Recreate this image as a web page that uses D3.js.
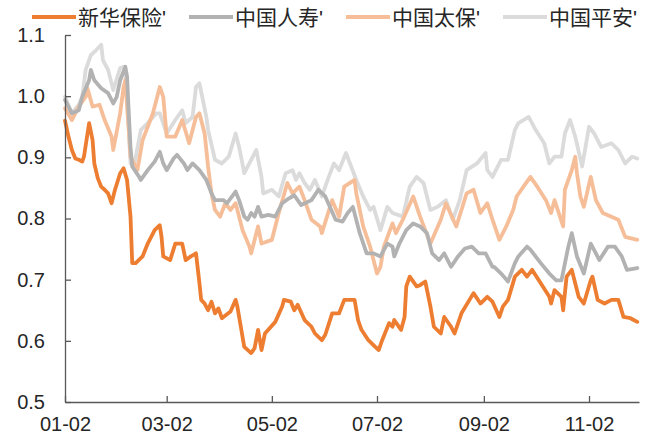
<!DOCTYPE html>
<html><head><meta charset="utf-8">
<script src="https://cdn.jsdelivr.net/npm/d3@7"></script>
<style>
html,body{margin:0;padding:0;background:#fff;}
svg{display:block;}
text{font-family:"Liberation Sans","Noto Sans CJK SC",Arial,sans-serif;fill:#262626;}
</style></head>
<body>
<svg id="chart" width="659" height="439"></svg>
<script>
const seriesNames = ["新华保险'", "中国人寿'", "中国太保'", "中国平安'"];
const xTickLabels = ["01-02", "03-02", "05-02", "07-02", "09-02", "11-02"];
const yTickValues = [0.5, 0.6, 0.7, 0.8, 0.9, 1.0, 1.1];

const xinhuaDates = ["01-02","01-04","01-06","01-08","01-10","01-12","01-13","01-16","01-18","01-19","01-21","01-23","01-25","01-27","01-29","01-31","02-03","02-05","02-07","02-09","02-10","02-12","02-16","02-19","02-23","02-26","02-27","02-28","03-04","03-07","03-11","03-13","03-16","03-19","03-21","03-22","03-24","03-26","03-28","03-30","04-01","04-03","04-08","04-11","04-12","04-14","04-16","04-20","04-22","04-24","04-26","04-28","05-04","05-08","05-09","05-13","05-15","05-17","05-21","05-25","05-27","05-31","06-02","06-06","06-10","06-13","06-17","06-19","06-21","06-23","06-27","07-01","07-03","07-05","07-09","07-11","07-12","07-16","07-18","07-19","07-21","07-25","07-27","07-30","08-02","08-04","08-08","08-10","08-14","08-16","08-20","08-27","08-31","09-04","09-07","09-11","09-13","09-16","09-20","09-24","09-27","09-30","10-05","10-10","10-11","10-13","10-17","10-18","10-20","10-23","10-27","10-30","11-03","11-04","11-07","11-11","11-15","11-19","11-22","11-26","11-30"];
const xinhuaValues = [0.960,0.934,0.912,0.898,0.896,0.893,0.901,0.956,0.928,0.890,0.866,0.852,0.847,0.841,0.825,0.847,0.874,0.882,0.863,0.803,0.727,0.727,0.738,0.759,0.781,0.789,0.770,0.738,0.732,0.759,0.759,0.732,0.738,0.743,0.694,0.667,0.661,0.650,0.664,0.645,0.653,0.637,0.648,0.667,0.656,0.623,0.590,0.580,0.588,0.618,0.585,0.612,0.631,0.656,0.667,0.664,0.650,0.659,0.634,0.623,0.612,0.601,0.610,0.645,0.645,0.667,0.667,0.667,0.634,0.618,0.601,0.590,0.585,0.601,0.629,0.623,0.634,0.618,0.639,0.689,0.705,0.689,0.691,0.697,0.656,0.623,0.612,0.639,0.623,0.612,0.645,0.678,0.661,0.672,0.664,0.639,0.656,0.667,0.705,0.716,0.705,0.716,0.694,0.672,0.661,0.683,0.672,0.650,0.705,0.716,0.672,0.661,0.699,0.705,0.667,0.661,0.667,0.667,0.639,0.637,0.631];

const renshouDates = ["01-02","01-06","01-10","01-12","01-16","01-17","01-19","01-23","01-27","01-30","02-01","02-03","02-06","02-07","02-08","02-09","02-10","02-14","02-15","02-19","02-23","02-26","02-28","03-02","03-06","03-08","03-12","03-14","03-17","03-21","03-25","03-28","03-30","04-04","04-06","04-11","04-13","04-16","04-18","04-20","04-22","04-24","04-26","04-30","05-04","05-08","05-12","05-15","05-19","05-25","05-29","06-02","06-08","06-12","06-15","06-18","06-22","06-26","06-30","07-04","07-08","07-11","07-12","07-15","07-19","07-23","07-27","07-31","08-03","08-07","08-10","08-14","08-18","08-22","08-26","08-30","09-03","09-07","09-08","09-12","09-16","09-20","09-22","09-27","09-29","10-05","10-10","10-14","10-17","10-21","10-23","10-26","10-30","11-03","11-06","11-08","11-13","11-17","11-21","11-24","11-30"];
const renshouValues = [0.994,0.972,0.977,0.999,1.026,1.043,1.026,1.013,1.005,0.988,0.999,1.026,1.048,1.032,0.972,0.917,0.885,0.868,0.863,0.879,0.893,0.909,0.890,0.879,0.898,0.904,0.890,0.879,0.890,0.879,0.863,0.841,0.830,0.830,0.825,0.844,0.830,0.803,0.798,0.809,0.803,0.819,0.803,0.806,0.803,0.825,0.833,0.838,0.822,0.830,0.847,0.836,0.798,0.795,0.809,0.819,0.776,0.743,0.743,0.738,0.759,0.754,0.738,0.759,0.781,0.792,0.787,0.776,0.743,0.732,0.743,0.721,0.738,0.751,0.754,0.743,0.743,0.721,0.721,0.710,0.697,0.727,0.738,0.754,0.749,0.727,0.710,0.699,0.699,0.754,0.776,0.738,0.710,0.759,0.743,0.732,0.754,0.754,0.738,0.716,0.719];

const taibaoDates = ["01-02","01-06","01-10","01-14","01-15","01-18","01-22","01-25","01-29","01-30","02-03","02-05","02-06","02-08","02-09","02-13","02-16","02-22","02-26","02-28","03-02","03-07","03-11","03-15","03-19","03-21","03-24","03-26","03-28","03-30","04-02","04-05","04-08","04-11","04-15","04-19","04-20","04-22","04-24","04-26","05-02","05-06","05-11","05-14","05-18","05-21","05-25","05-30","05-31","06-06","06-10","06-13","06-19","06-20","06-24","06-28","07-02","07-04","07-06","07-11","07-13","07-17","07-23","07-27","08-02","08-08","08-11","08-17","08-23","08-27","08-31","09-04","09-07","09-11","09-15","09-19","09-21","09-25","09-29","10-03","10-08","10-11","10-13","10-18","10-19","10-23","10-25","10-26","10-28","10-30","11-03","11-06","11-10","11-15","11-19","11-23","11-30"];
const taibaoValues = [0.980,0.961,0.983,0.999,1.013,0.983,0.986,0.961,0.934,0.912,0.972,1.015,1.026,0.945,0.901,0.879,0.928,0.972,1.015,0.999,0.934,0.934,0.961,0.923,0.966,0.972,0.939,0.885,0.841,0.814,0.803,0.825,0.814,0.825,0.781,0.754,0.743,0.765,0.787,0.759,0.765,0.809,0.858,0.841,0.852,0.830,0.798,0.787,0.776,0.830,0.803,0.852,0.863,0.841,0.787,0.754,0.710,0.721,0.754,0.792,0.776,0.798,0.836,0.803,0.759,0.798,0.825,0.787,0.841,0.847,0.809,0.825,0.798,0.765,0.787,0.814,0.836,0.852,0.868,0.852,0.830,0.809,0.830,0.787,0.847,0.879,0.901,0.874,0.836,0.819,0.868,0.830,0.809,0.803,0.798,0.770,0.765];

const pinganDates = ["01-02","01-06","01-10","01-12","01-14","01-17","01-20","01-23","01-24","01-27","01-30","02-03","02-05","02-06","02-08","02-09","02-11","02-15","02-19","02-24","02-26","03-02","03-07","03-11","03-13","03-17","03-19","03-21","03-25","03-26","03-30","04-03","04-07","04-11","04-13","04-16","04-20","04-23","04-26","04-27","05-02","05-06","05-10","05-14","05-16","05-18","05-21","05-24","05-27","05-31","06-04","06-07","06-10","06-14","06-17","06-20","06-24","06-28","06-30","07-04","07-08","07-11","07-17","07-21","07-25","07-29","08-02","08-06","08-11","08-15","08-19","08-23","08-29","09-03","09-04","09-07","09-12","09-16","09-20","09-22","09-28","10-02","10-07","10-10","10-13","10-17","10-19","10-22","10-25","10-29","11-02","11-05","11-09","11-15","11-19","11-23","11-27","11-30"];
const pinganValues = [0.999,0.972,0.986,0.999,1.043,1.067,1.075,1.084,1.059,1.043,1.010,1.046,1.048,1.037,0.945,0.890,0.885,0.945,0.956,0.972,0.972,0.939,0.961,0.977,0.956,0.966,1.015,1.021,0.966,0.945,0.896,0.890,0.901,0.939,0.917,0.874,0.896,0.912,0.868,0.841,0.847,0.836,0.874,0.879,0.863,0.874,0.858,0.847,0.863,0.836,0.868,0.890,0.879,0.907,0.885,0.863,0.836,0.814,0.819,0.781,0.819,0.809,0.803,0.852,0.868,0.858,0.814,0.819,0.830,0.798,0.830,0.879,0.890,0.907,0.879,0.868,0.896,0.896,0.945,0.956,0.966,0.945,0.923,0.890,0.901,0.901,0.939,0.961,0.934,0.885,0.950,0.939,0.917,0.923,0.912,0.890,0.901,0.898];

const colors = ["#ED7D31", "#B2B2B2", "#F6BE98", "#DBDBDB"];
const YEAR = "2023-";
const parse = d3.timeParse("%Y-%m-%d");
const toPoints = (dates, vals) => dates.map((d, i) => ({date: parse(YEAR + d), value: vals[i]}));
const series = [
  {name: seriesNames[0], color: colors[0], pts: toPoints(xinhuaDates, xinhuaValues)},
  {name: seriesNames[1], color: colors[1], pts: toPoints(renshouDates, renshouValues)},
  {name: seriesNames[2], color: colors[2], pts: toPoints(taibaoDates, taibaoValues)},
  {name: seriesNames[3], color: colors[3], pts: toPoints(pinganDates, pinganValues)}
];

const svg = d3.select("#chart");
const x = d3.scaleTime().domain([parse("2023-01-02"), parse("2023-12-01")]).range([65, 639]);
const y = d3.scaleLinear().domain([0.5, 1.1]).range([402, 35]);

const line = d3.line().x(d => x(d.date)).y(d => y(d.value)).curve(d3.curveLinear);

// lines: draw last series first so the first series sits on top
const g = svg.append("g");
series.slice().reverse().forEach(s => {
  g.append("path").datum(s.pts)
    .attr("d", line)
    .attr("fill", "none")
    .attr("stroke", s.color)
    .attr("stroke-width", 3.8)
    .attr("stroke-linejoin", "round")
    .attr("stroke-linecap", "round");
});

// Y axis
const yAxis = d3.axisLeft(y).tickValues(yTickValues).tickSizeInner(-6).tickSizeOuter(0)
  .tickPadding(20).tickFormat(d3.format(".1f"));
const yg = svg.append("g").attr("transform", "translate(65,0)").call(yAxis);
yg.select(".domain").attr("stroke", "#595959").attr("stroke-width", 1.3);
yg.selectAll(".tick line").attr("stroke", "#595959").attr("stroke-width", 1.3);
yg.selectAll(".tick text").attr("font-size", 20).attr("fill", "#262626")
  .style("font-family", '"Liberation Sans",Arial,sans-serif');

// X axis
const xTicks = xTickLabels.map(s => parse(YEAR + s));
const xAxis = d3.axisBottom(x).tickValues(xTicks).tickSizeInner(-6).tickSizeOuter(0)
  .tickPadding(15).tickFormat(d3.timeFormat("%m-%d"));
const xg = svg.append("g").attr("transform", "translate(0,402)").call(xAxis);
xg.select(".domain").attr("stroke", "#595959").attr("stroke-width", 1.3);
xg.selectAll(".tick line").attr("stroke", "#595959").attr("stroke-width", 1.3);
xg.selectAll(".tick text").attr("font-size", 20).attr("fill", "#262626")
  .style("font-family", '"Liberation Sans",Arial,sans-serif');

// Legend
const lg = svg.append("g");
series.forEach((s, i) => {
  const lx = 32 + i * 157;
  lg.append("line").attr("x1", lx).attr("x2", lx + 44).attr("y1", 17).attr("y2", 17)
    .attr("stroke", s.color).attr("stroke-width", 4);
  lg.append("text").attr("x", lx + 46).attr("y", 24.5).attr("font-size", 21).text(s.name);
});
</script>
</body></html>
